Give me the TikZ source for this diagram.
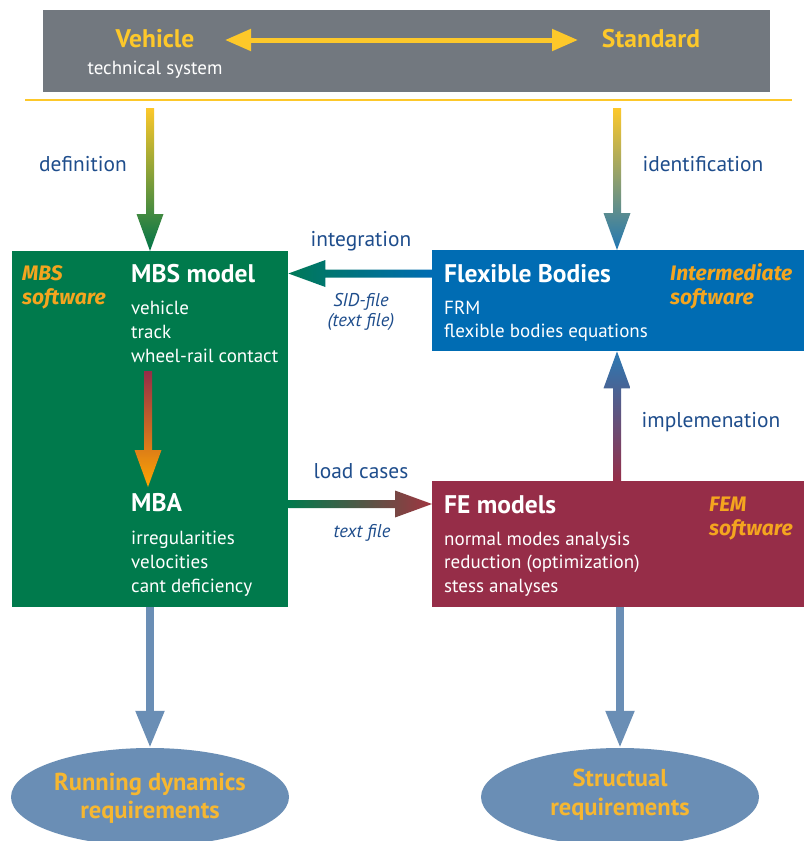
\documentclass[tikz,border=0pt]{standalone}
\usepackage{fontspec}
\setmainfont{PT Sans}
\newfontfamily\firafont{Fira Sans}
\usetikzlibrary{arrows.meta,calc,shapes.geometric}
\definecolor{barGray}{HTML}{72787F}
\definecolor{gold}{HTML}{FDC82A}
\definecolor{mbsGreen}{HTML}{007A4C}
\definecolor{flexBlue}{HTML}{006CB3}
\definecolor{feRed}{HTML}{962D48}
\definecolor{orangeT}{HTML}{F4A51F}
\definecolor{ellText}{HTML}{F6B731}
\definecolor{steel}{HTML}{6A8EB5}
\definecolor{labelBlue}{HTML}{1E4D8C}
\definecolor{midTan}{HTML}{B3AA8E}
% shaded arrow macros: #1 options, #2 start coordinate, #3 tip coordinate
\newcommand\arrDn[3]{\path[#1] ($(#2)+(-4,0)$) -- ($(#2)+(4,0)$) -- ($(#3)+(4,-37)$) -- ($(#3)+(13.5,-37)$) -- (#3) -- ($(#3)+(-13.5,-37)$) -- ($(#3)+(-4,-37)$) -- cycle;}
\newcommand\arrUpw[3]{\path[#1] ($(#2)+(-4,0)$) -- ($(#2)+(4,0)$) -- ($(#3)+(4,37)$) -- ($(#3)+(13.5,37)$) -- (#3) -- ($(#3)+(-13.5,37)$) -- ($(#3)+(-4,37)$) -- cycle;}
\newcommand\arrLf[3]{\path[#1] ($(#2)+(0,-4)$) -- ($(#2)+(0,4)$) -- ($(#3)+(37,4)$) -- ($(#3)+(37,13.5)$) -- (#3) -- ($(#3)+(37,-13.5)$) -- ($(#3)+(37,-4)$) -- cycle;}
\newcommand\arrRt[3]{\path[#1] ($(#2)+(0,-4)$) -- ($(#2)+(0,4)$) -- ($(#3)+(-37,4)$) -- ($(#3)+(-37,13.5)$) -- (#3) -- ($(#3)+(-37,-13.5)$) -- ($(#3)+(-37,-4)$) -- cycle;}
\begin{document}
\begin{tikzpicture}[x=1pt,y=-1pt,
  box/.style={inner sep=0pt, anchor=north west, draw=none},
  bodytxt/.style={text=white, font=\fontsize{19}{24}\selectfont, anchor=base west, inner sep=0pt},
  headtxt/.style={text=white, font=\bfseries\fontsize{25.5}{30}\selectfont, anchor=base west, inner sep=0pt},
  softtxt/.style={text=orangeT, font=\firafont\bfseries\itshape\fontsize{21}{24}\selectfont, anchor=base west, inner sep=0pt},
  labtxt/.style={text=labelBlue, font=\fontsize{21.4}{24}\selectfont, anchor=base, inner sep=0pt},
  itxt/.style={text=labelBlue, font=\itshape\fontsize{18.5}{20}\selectfont, anchor=base, inner sep=0pt},
  elltxt/.style={text=ellText, font=\bfseries\fontsize{24.5}{28}\selectfont, anchor=base, inner sep=0pt},
  goldtxt/.style={text=gold, font=\bfseries\fontsize{25.5}{28}\selectfont, anchor=base, inner sep=0pt},
  req/.style={ellipse, fill=steel, inner sep=0pt, minimum width=278pt, minimum height=98pt},
  plainarrow/.style={draw=steel, line width=8pt, -{Triangle[length=37pt,width=27pt]}}
]
\useasboundingbox (0,0) rectangle (808,841);
\fill[white] (0,0) rectangle (808,841);

% top bar
\node[box, fill=barGray, minimum width=727pt, minimum height=82pt] (bar) at (43,10) {};
\node[goldtxt] (veh) at (155,47) {Vehicle};
\node[text=white, font=\fontsize{19}{24}\selectfont, anchor=base, inner sep=0pt] (tech) at (155,74) {technical system};
\node[goldtxt] (std) at (651,47) {Standard};
\coordinate (ga) at (225,40);
\coordinate (gb) at (578,40);
\draw[gold, line width=5pt, {Triangle[length=26pt,width=21pt]}-{Triangle[length=26pt,width=21pt]}] (ga) -- (gb);

\draw[gold, line width=2.5pt] (25,100) -- (792,100);

% boxes
\node[box, fill=mbsGreen, minimum width=276pt, minimum height=356pt] (mbs) at (12,251) {};
\node[box, fill=flexBlue, minimum width=372pt, minimum height=101pt] (flex) at (432,250) {};
\node[box, fill=feRed, minimum width=372pt, minimum height=126pt] (fe) at (432,481) {};

% MBS box text
\node[softtxt] (mbss1) at (22,280.7) {MBS};
\node[softtxt] (mbss2) at (22,304) {software};
\node[headtxt] (mbsh) at (131,282.7) {MBS model};
\node[bodytxt] (mbs1) at (131,314) {vehicle};
\node[bodytxt] (mbs2) at (131,338) {track};
\node[bodytxt] (mbs3) at (131,362) {wheel-rail contact};
\node[headtxt] (mba) at (131,511.7) {MBA};
\node[bodytxt] (mba1) at (131,544) {irregularities};
\node[bodytxt] (mba2) at (131,568) {velocities};
\node[bodytxt] (mba3) at (131,592) {cant deficiency};

% Flexible bodies text
\node[headtxt] (flexh) at (444,282.7) {Flexible Bodies};
\node[bodytxt] (flex1) at (444,314) {FRM};
\node[bodytxt] (flex2) at (444,337.7) {flexible bodies equations};
\node[softtxt] (ints1) at (670,280.7) {Intermediate};
\node[softtxt] (ints2) at (670,304.3) {software};

% FE text
\node[headtxt] (feh) at (444,513) {FE models};
\node[bodytxt] (fe1) at (444,545) {normal modes analysis};
\node[bodytxt] (fe2) at (444,568) {reduction (optimization)};
\node[bodytxt] (fe3) at (444,592) {stess analyses};
\node[softtxt] (fems1) at (709,511.7) {FEM};
\node[softtxt] (fems2) at (709,535) {software};

% labels
\node[labtxt] (def) at (83,171.7) {definition};
\node[labtxt] (ident) at (703,171.7) {identification};
\node[labtxt] (integ) at (361,246.5) {integration};
\node[itxt] (sid1) at (361,306) {SID-file};
\node[itxt] (sid2) at (361,326) {(text file)};
\node[labtxt] (load) at (361,478) {load cases};
\node[itxt] (tf) at (362,537.7) {text file};
\node[labtxt] (impl) at (711,427) {implemenation};

% ellipses
\node[req] (run) at (150,797) {};
\node[req] (st) at (620,797) {};
\node[elltxt] (run1) at (150,790.7) {Running dynamics};
\node[elltxt] (run2) at (150,818) {requirements};
\node[elltxt] (st1) at (620,786.7) {Structual};
\node[elltxt] (st2) at (620,815) {requirements};

% shaded connectors
\coordinate (d1) at (150,108);
\coordinate (d2) at (d1 |- mbs.north);
\arrDn{top color=gold, bottom color=mbsGreen!95!black}{d1}{d2}
\coordinate (i1) at (617,108);
\coordinate (i2) at (i1 |- flex.north);
\arrDn{top color=gold, middle color=midTan, bottom color=flexBlue!70!steel}{i1}{i2}
\coordinate (n1) at (flex.west |- 0,273.5);
\coordinate (n2) at (mbs.east |- n1);
\arrLf{left color=mbsGreen!90!flexBlue, right color=flexBlue}{n1}{n2}
\coordinate (l1) at (mbs.east |- 0,504);
\coordinate (l2) at (fe.west |- l1);
\arrRt{left color=mbsGreen, right color=feRed!90!orange}{l1}{l2}
\coordinate (m1) at (148,371);
\coordinate (m2) at (148,487);
\arrDn{top color=feRed, bottom color=orange!70!yellow}{m1}{m2}
\coordinate (p1) at (617,481);
\coordinate (p2) at (p1 |- flex.south);
\arrUpw{bottom color=feRed, top color=flexBlue!60!steel}{p1}{p2}

% plain connectors
\draw[plainarrow] (mbs.south -| run.north) -- (run.north);
\draw[plainarrow] (fe.south -| st.north) -- (st.north);
\end{tikzpicture}
\end{document}
